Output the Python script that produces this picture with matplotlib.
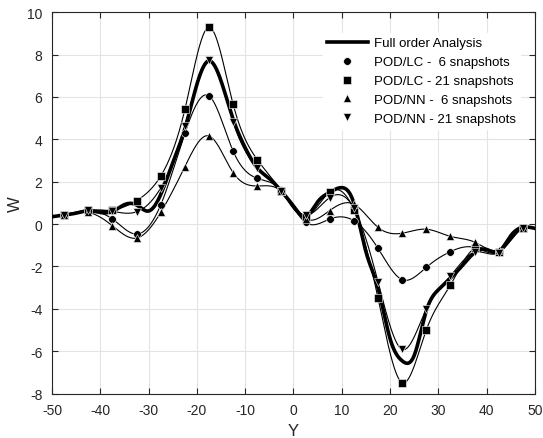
import numpy as np
import matplotlib
matplotlib.use("Agg")
import matplotlib.pyplot as plt

plt.rcParams['font.family'] = ['Liberation Sans', 'DejaVu Sans']
plt.rcParams['axes.unicode_minus'] = False

# marker positions (every 5 units, offset 2.5), plus the two edge values
y_pos = [-50, -47.5, -42.5, -37.5, -32.5, -27.5, -22.5, -17.5, -12.5, -7.5, -2.5,
         2.5, 7.5, 12.5, 17.5, 22.5, 27.5, 32.5, 37.5, 42.5, 47.5, 50]

w_lc6 = [0.35, 0.42, 0.60, 0.24, -0.47, 0.91, 4.28, 6.05, 3.44, 2.16, 1.60,
         0.08, 0.24, 0.16, -1.14, -2.62, -2.04, -1.30, -1.10, -1.30, -0.18, -0.2]
w_lc21 = [0.35, 0.45, 0.65, 0.67, 1.11, 2.27, 5.41, 9.29, 5.65, 3.04, 1.55,
          0.35, 1.52, 0.68, -3.48, -7.48, -5.00, -2.88, -1.15, -1.30, -0.20, -0.2]
w_nn6 = [0.35, 0.43, 0.55, -0.08, -0.66, 0.55, 2.71, 4.16, 2.43, 1.80, 1.55,
         0.25, 0.64, 0.94, -0.15, -0.43, -0.24, -0.58, -0.85, -1.20, -0.18, -0.2]
w_nn21 = [0.35, 0.43, 0.65, 0.60, 0.58, 1.71, 4.63, 7.76, 4.82, 2.67, 1.55,
          0.42, 1.25, 0.75, -2.71, -5.91, -4.02, -2.45, -1.33, -1.35, -0.20, -0.2]

# full order solution
y_full = [-50, -47.5, -45, -42.5, -40, -37.5, -35, -32.5, -30, -27.5, -25, -22.5, -20,
          -17.5, -15, -12.5, -10, -7.5, -5, -2.5, 0, 2.5, 5, 7.5, 10, 12.5, 15, 17.5,
          20, 22.5, 25, 27.5, 30, 32.5, 35, 37.5, 40, 42.5, 45, 47.5, 50]
w_full = [0.35, 0.43, 0.52, 0.63, 0.55, 0.60, 0.92, 0.90, 0.62, 1.40, 2.90, 4.50, 6.60,
          7.70, 6.75, 4.95, 3.60, 2.65, 2.15, 1.55, 0.85, 0.35, 1.05, 1.50, 1.72, 1.00, -1.30,
          -3.00, -5.40, -6.45, -6.20, -4.10, -3.10, -2.55, -1.95, -1.35, -1.20, -1.30, -0.55,
          -0.15, -0.20]


def spline(x, y, xs):
    # natural cubic spline
    x = np.asarray(x, float)
    y = np.asarray(y, float)
    n = len(x)
    h = np.diff(x)
    A = np.zeros((n, n))
    b = np.zeros(n)
    A[0, 0] = A[-1, -1] = 1
    for i in range(1, n - 1):
        A[i, i - 1] = h[i - 1]
        A[i, i] = 2 * (h[i - 1] + h[i])
        A[i, i + 1] = h[i]
        b[i] = 3 * ((y[i + 1] - y[i]) / h[i] - (y[i] - y[i - 1]) / h[i - 1])
    c = np.linalg.solve(A, b)
    k = np.clip(np.searchsorted(x, xs) - 1, 0, n - 2)
    dx = xs - x[k]
    bb = (y[k + 1] - y[k]) / h[k] - h[k] * (2 * c[k] + c[k + 1]) / 3
    d = (c[k + 1] - c[k]) / (3 * h[k])
    return y[k] + bb * dx + c[k] * dx ** 2 + d * dx ** 3


xs = np.linspace(-50, 50, 1001)

fig, ax = plt.subplots(figsize=(5.43, 4.39), dpi=100)
fig.subplots_adjust(left=0.096, right=0.985, bottom=0.101, top=0.970)

ax.plot(xs, spline(y_full, w_full, xs), color='black', lw=2.6, label='Full order Analysis', zorder=4)

series = [(w_lc6, 'o', 'POD/LC -  6 snapshots'),
          (w_lc21, 's', 'POD/LC - 21 snapshots'),
          (w_nn6, '^', 'POD/NN -  6 snapshots'),
          (w_nn21, 'v', 'POD/NN - 21 snapshots')]
for w, m, lab in series:
    ax.plot(xs, spline(y_pos, w, xs), color='black', lw=0.8, zorder=3)
    ax.plot(y_pos[1:-1], w[1:-1], linestyle='none', marker=m, color='black',
            markersize=5.5, markeredgecolor='white', markeredgewidth=0.4, zorder=5, label=lab)

ax.set_xlim(-50, 50)
ax.set_ylim(-8, 10)
ax.set_xticks(np.arange(-50, 51, 10))
ax.set_yticks(np.arange(-8, 11, 2))
ax.grid(True, color='#e3e3e3', lw=0.8)
ax.set_axisbelow(True)
ax.tick_params(direction='in', top=True, right=True, labelsize=10, colors='#262626', length=4, pad=7)
for s in ax.spines.values():
    s.set_color('#262626')
    s.set_linewidth(0.8)
ax.set_xlabel('Y', fontsize=12, color='#262626', labelpad=4)
ax.set_ylabel('W', fontsize=12, color='#262626', labelpad=3)

leg = ax.legend(loc='upper right', bbox_to_anchor=(0.982, 0.962), fontsize=9.5, frameon=True,
                handlelength=3.1, labelspacing=0.5, borderpad=0.3, handletextpad=0.45,
                fancybox=False, markerscale=1.0)
leg.get_frame().set_edgecolor('white')
leg.get_frame().set_facecolor('white')
leg.get_frame().set_alpha(1)

fig.savefig('out.png', dpi=100)
